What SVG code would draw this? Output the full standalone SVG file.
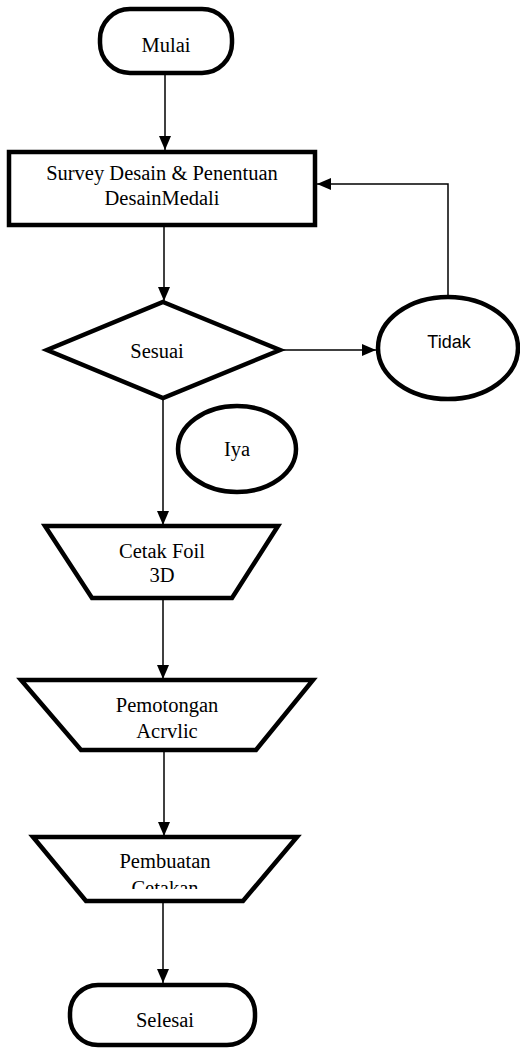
<svg xmlns="http://www.w3.org/2000/svg" width="520" height="1051" viewBox="0 0 520 1051">
<style>
.node{fill:#fff;stroke:#000;stroke-width:4.5}
.t{font-family:"Liberation Serif","Times New Roman",serif;font-size:20.5px;fill:#000;text-anchor:middle}
.s{font-family:"Liberation Sans",Arial,sans-serif;font-size:18px;fill:#000;text-anchor:middle}
.c{fill:none;stroke:#000;stroke-width:1.5}
</style>
<defs>
<marker id="ah" markerUnits="userSpaceOnUse" markerWidth="14" markerHeight="12" refX="14" refY="6" orient="auto">
<path d="M0,0 L14,6 L0,12 z" fill="#000"/>
</marker>
<clipPath id="clip3"><rect x="0" y="830" width="520" height="59"/></clipPath>
</defs>
<rect width="520" height="1051" fill="#fff"/>
<g id="connectors">
<line class="c" x1="165" y1="73" x2="165" y2="150" marker-end="url(#ah)"/>
<line class="c" x1="164" y1="226" x2="164" y2="301" marker-end="url(#ah)"/>
<line class="c" x1="282" y1="350" x2="376" y2="350" marker-end="url(#ah)"/>
<polyline class="c" points="448,297 448,184 317,184" marker-end="url(#ah)"/>
<line class="c" x1="163" y1="400" x2="163" y2="525" marker-end="url(#ah)"/>
<line class="c" x1="163" y1="600" x2="163" y2="679" marker-end="url(#ah)"/>
<line class="c" x1="164" y1="752" x2="164" y2="836" marker-end="url(#ah)"/>
<line class="c" x1="163" y1="903" x2="163" y2="983" marker-end="url(#ah)"/>
</g>
<g id="mulai">
<rect class="node" x="100" y="9" width="132" height="64" rx="30" ry="30"/>
<text class="t" x="166" y="52">Mulai</text>
</g>
<g id="survey">
<rect class="node" x="9" y="152" width="306" height="73" stroke-width="5"/>
<text class="t" x="162" y="180">Survey Desain &amp; Penentuan</text>
<text class="t" x="162" y="205">DesainMedali</text>
</g>
<g id="sesuai">
<polygon class="node" points="163,302 280,350 163,398 47,350"/>
<text class="t" x="157" y="358">Sesuai</text>
</g>
<g id="tidak">
<ellipse class="node" cx="448" cy="348" rx="70" ry="51"/>
<text class="s" x="449" y="348">Tidak</text>
</g>
<g id="iya">
<ellipse class="node" cx="237" cy="449" rx="59" ry="43"/>
<text class="t" x="237" y="456">Iya</text>
</g>
<g id="cetak">
<polygon class="node" points="45,526 278,526 232,598 92,598"/>
<text class="t" x="162" y="558">Cetak Foil</text>
<text class="t" x="162" y="582">3D</text>
</g>
<g id="pemotongan">
<polygon class="node" points="21,680 313,680 256,750 81,750"/>
<text class="t" x="167" y="712">Pemotongan</text>
<text class="t" x="167" y="738">Acrvlic</text>
</g>
<g id="pembuatan">
<polygon class="node" points="33,837 297,837 243,901 86,901"/>
<g clip-path="url(#clip3)">
<text class="t" x="165" y="868">Pembuatan</text>
<text class="t" x="165" y="895">Cetakan</text>
</g>
</g>
<g id="selesai">
<rect class="node" x="70" y="985" width="185" height="60" rx="28" ry="28"/>
<text class="t" x="165" y="1027">Selesai</text>
</g>
</svg>
